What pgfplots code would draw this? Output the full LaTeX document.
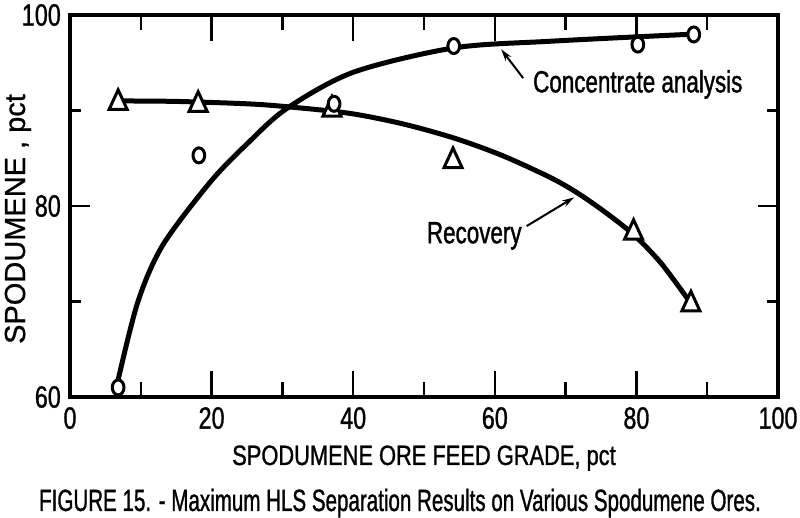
\documentclass[border=0pt]{standalone}
\usepackage{fontspec}
\setmainfont{Liberation Sans}[FakeBold=0.8]
\newfontfamily\condT{Liberation Sans}[FakeStretch=0.76,FakeBold=1]
\newfontfamily\condX{Liberation Sans}[FakeStretch=0.78,FakeBold=1]
\newfontfamily\condC{Liberation Sans}[FakeStretch=0.67,FakeBold=1]
\newfontfamily\condL{Liberation Sans}[FakeStretch=0.73,FakeBold=1.2]
\usepackage{pgfplots}
\pgfplotsset{compat=1.18}
\usetikzlibrary{arrows.meta}

\begin{document}
\begin{tikzpicture}[x=1pt,y=1pt]
\useasboundingbox (0,0) rectangle (800,518);
\begin{axis}[
  at={(70pt,121pt)}, anchor=south west,
  scale only axis, width=708pt, height=382pt,
  xmin=0, xmax=100, ymin=60, ymax=100,
  xtick={0,20,...,100}, minor xtick={10,30,...,90},
  ytick={60,80,100}, minor ytick={70,90},
  tick align=inside,
  axis line style={line width=3.5pt},
  tick style={line width=2.5pt, black},
  major tick length=26pt, minor tick length=15pt,
  major y tick style={/pgfplots/major tick length=20pt},
  minor y tick style={/pgfplots/minor tick length=11pt},
  /pgf/number format/assume math mode=true,
  xticklabel style={font=\condT\fontsize{30.7}{31}\selectfont, anchor=north, inner sep=0pt, yshift=-10pt},
  yticklabel style={font=\condT\fontsize{30.7}{31}\selectfont, anchor=east, inner sep=0pt, xshift=-9pt},
  clip=false,
]
% Concentrate analysis curve
\addplot[line width=5pt, smooth, black] coordinates {
 (6.8,61.8) (9.6,70.0) (13.1,75.9) (19.8,82.5) (25,86.5) (30.6,90.2)
 (40,94.0) (54.2,96.55) (67.8,97.25) (88.1,98.0)};
% Recovery curve
\addplot[line width=5pt, smooth, black] coordinates {
 (6.8,91.0) (15,90.95) (25,90.7) (30.6,90.4) (39.5,89.7) (47,88.6) (54.3,87.1)
 (61,85.3) (67.8,83.0) (71.6,81.4) (75.5,79.4) (79.6,77.0) (83.5,74.0) (87.7,69.8)};
% Recovery data
\addplot[only marks, mark=triangle*, mark size=13pt,
  mark options={xscale=0.8, line width=3pt, fill=white, draw=black, solid}] coordinates {
 (6.8,90.8) (18.1,90.6) (37.0,90.1) (54.1,84.7) (79.6,77.2) (87.7,69.7)};
% Concentrate data
\addplot[only marks, mark=*, mark size=7.5pt,
  mark options={xscale=0.78, line width=3pt, fill=white, draw=black, solid}] coordinates {
 (6.8,61.0) (18.2,85.3) (37.3,90.7) (54.2,96.75) (80.2,96.9) (88.1,97.96)};
% annotations
\draw[-{Stealth[length=12pt,width=7pt]}, line width=2pt] (axis cs:64,93.4) -- (axis cs:60.9,96.4);
\node[anchor=base, font=\condL\fontsize{30.7}{31}\selectfont] at (axis cs:80.2,91.9) {Concentrate analysis};
\draw[-{Stealth[length=12pt,width=7pt]}, line width=2pt] (axis cs:64.5,77.9) -- (axis cs:71.2,80.9);
\node[anchor=base, font=\condL\fontsize{30.7}{31}\selectfont] at (axis cs:57.1,76.1) {Recovery};
\end{axis}
\node[anchor=base, font=\condX\fontsize{28}{30}\selectfont] at (424,53) {SPODUMENE ORE FEED GRADE, pct};
\node[anchor=base, font=\condC\fontsize{30.7}{31}\selectfont] at (400,7) {FIGURE 15. - Maximum HLS Separation Results on Various Spodumene Ores.};
\node[rotate=90, anchor=base, font=\fontsize{29}{30}\selectfont] at (25,299) {SPODUMENE , pct};
\end{tikzpicture}
\end{document}
